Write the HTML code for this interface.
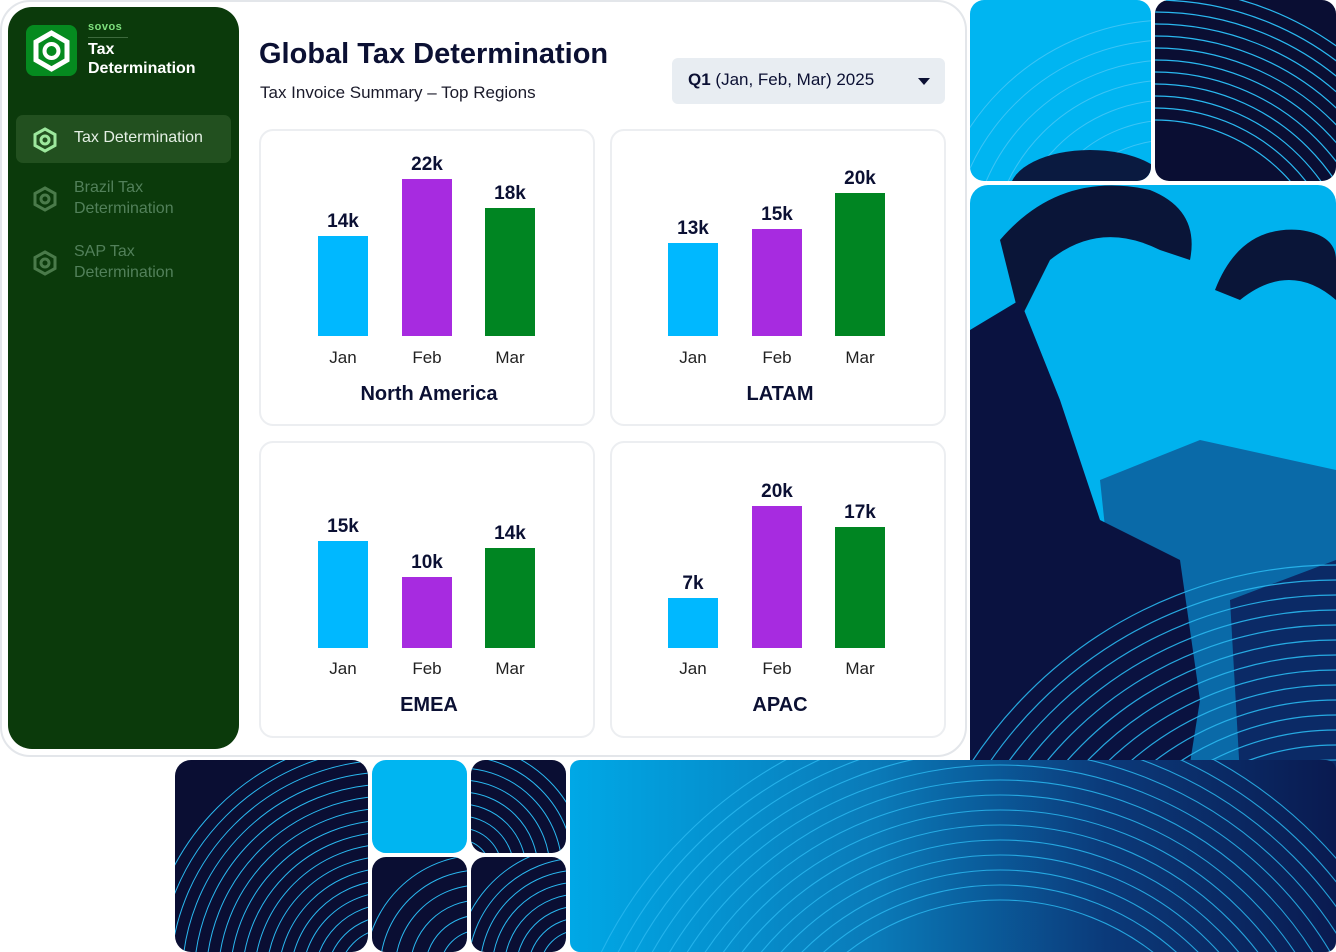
<!DOCTYPE html>
<html><head><meta charset="utf-8"><style>
*{margin:0;padding:0;box-sizing:border-box}
html,body{width:1336px;height:952px;overflow:hidden}
body{background:#fff;font-family:"Liberation Sans",sans-serif;position:relative}
.abs{position:absolute}
.card{left:0;top:0;width:967px;height:757px;background:#fff;border:2px solid #e3e6ea;border-radius:30px}
.side{left:8px;top:7px;width:231px;height:742px;background:#0b3a0b;border-radius:24px}
.panel{position:absolute;width:336px;height:297px;border:2px solid #eceef1;border-radius:14px;background:#fff}
.bar{position:absolute;width:50px}
.val{position:absolute;width:80px;text-align:center;font-weight:bold;font-size:19px;color:#0b1033}
.mon{position:absolute;width:80px;text-align:center;font-size:17px;color:#222}
.ttl{position:absolute;left:0;width:336px;text-align:center;font-weight:bold;font-size:20px;color:#0b1033}
</style></head><body>
<svg class="abs" style="left:0;top:0" width="1336" height="952">
<defs>
<clipPath id="c1"><rect x="970" y="0" width="181" height="181" rx="14"/></clipPath>
<clipPath id="c2"><rect x="1155" y="0" width="181" height="181" rx="14"/></clipPath>
<clipPath id="c3"><rect x="970" y="185" width="366" height="767" rx="18"/></clipPath>
<clipPath id="c4"><rect x="175" y="760" width="193" height="192" rx="16"/></clipPath>
<clipPath id="c5"><rect x="570" y="760" width="766" height="192" rx="10"/></clipPath>
<clipPath id="c6"><rect x="471" y="760" width="95" height="93" rx="14"/></clipPath>
<clipPath id="c7"><rect x="372" y="857" width="95" height="95" rx="14"/></clipPath>
<clipPath id="c8"><rect x="471" y="857" width="95" height="95" rx="14"/></clipPath>
<linearGradient id="g5" x1="0" x2="1" y1="0" y2="0"><stop offset="0" stop-color="#00a8e6"/><stop offset="0.4" stop-color="#0a7ab8"/><stop offset="0.7" stop-color="#0b3a7a"/><stop offset="1" stop-color="#0a1a50"/></linearGradient>
</defs>
<g clip-path="url(#c1)"><rect x="970" y="0" width="181" height="181" fill="#00b5f1"/>
<g fill="none" stroke="#3cc4f5" stroke-width="1"><circle cx="1170" cy="260" r="120"/><circle cx="1170" cy="260" r="140"/><circle cx="1170" cy="260" r="160"/><circle cx="1170" cy="260" r="180"/><circle cx="1170" cy="260" r="200"/><circle cx="1170" cy="260" r="220"/><circle cx="1170" cy="260" r="240"/></g>
<ellipse cx="1090" cy="190" rx="80" ry="40" fill="#0a1a40"/></g>
<g clip-path="url(#c2)"><rect x="1155" y="0" width="181" height="181" fill="#0a0e33"/>
<g fill="none" stroke="#2ab8f0" stroke-width="1.2">
<circle cx="1155" cy="300" r="180"/><circle cx="1155" cy="300" r="192"/><circle cx="1155" cy="300" r="204"/><circle cx="1155" cy="300" r="216"/><circle cx="1155" cy="300" r="228"/><circle cx="1155" cy="300" r="240"/><circle cx="1155" cy="300" r="252"/><circle cx="1155" cy="300" r="264"/><circle cx="1155" cy="300" r="276"/><circle cx="1155" cy="300" r="288"/><circle cx="1155" cy="300" r="300"/><circle cx="1155" cy="300" r="312"/></g></g>
<g clip-path="url(#c3)"><rect x="970" y="185" width="366" height="767" fill="#00b2ee"/>
<path d="M1000 240 Q1060 170 1150 190 Q1200 210 1190 260 L1160 250 Q1100 220 1050 260 L1020 320 Z" fill="#0a1538"/>
<path d="M1215 290 Q1240 225 1300 230 Q1336 235 1336 260 L1336 300 Q1290 260 1240 300 Z" fill="#0a1538"/>
<path d="M1100 480 L1200 440 L1336 470 L1336 952 L1150 952 Z" fill="#0a6aa8"/>
<path d="M1230 600 L1336 560 L1336 952 L1250 952 Z" fill="#0b2a66"/>
<path d="M970 330 L1020 300 L1060 400 L1100 520 L1180 560 L1200 700 L1160 952 L970 952 Z" fill="#0a1240"/>
<g fill="none" stroke="#2ab8f0" stroke-width="1.2" opacity="0.9">
<circle cx="1336" cy="1000" r="120"/><circle cx="1336" cy="1000" r="135"/><circle cx="1336" cy="1000" r="150"/><circle cx="1336" cy="1000" r="165"/><circle cx="1336" cy="1000" r="180"/><circle cx="1336" cy="1000" r="195"/><circle cx="1336" cy="1000" r="210"/><circle cx="1336" cy="1000" r="225"/><circle cx="1336" cy="1000" r="240"/><circle cx="1336" cy="1000" r="255"/><circle cx="1336" cy="1000" r="270"/><circle cx="1336" cy="1000" r="285"/><circle cx="1336" cy="1000" r="300"/><circle cx="1336" cy="1000" r="315"/><circle cx="1336" cy="1000" r="330"/><circle cx="1336" cy="1000" r="345"/><circle cx="1336" cy="1000" r="360"/><circle cx="1336" cy="1000" r="375"/><circle cx="1336" cy="1000" r="390"/><circle cx="1336" cy="1000" r="405"/><circle cx="1336" cy="1000" r="420"/><circle cx="1336" cy="1000" r="435"/></g></g>
<g clip-path="url(#c4)"><rect x="175" y="760" width="193" height="192" fill="#0a0e33"/>
<g fill="none" stroke="#2ab8f0" stroke-width="1"><circle cx="390" cy="980" r="40"/><circle cx="390" cy="980" r="52"/><circle cx="390" cy="980" r="64"/><circle cx="390" cy="980" r="76"/><circle cx="390" cy="980" r="88"/><circle cx="390" cy="980" r="100"/><circle cx="390" cy="980" r="112"/><circle cx="390" cy="980" r="124"/><circle cx="390" cy="980" r="136"/><circle cx="390" cy="980" r="148"/><circle cx="390" cy="980" r="160"/><circle cx="390" cy="980" r="172"/><circle cx="390" cy="980" r="184"/><circle cx="390" cy="980" r="196"/><circle cx="390" cy="980" r="208"/><circle cx="390" cy="980" r="220"/><circle cx="390" cy="980" r="232"/><circle cx="390" cy="980" r="244"/></g></g>
<rect x="372" y="760" width="95" height="93" rx="14" fill="#00b5f1"/>
<g clip-path="url(#c6)"><rect x="471" y="760" width="95" height="93" fill="#0a0e33"/><g fill="none" stroke="#2ab8f0"><circle cx="460" cy="870" r="30"/><circle cx="460" cy="870" r="42"/><circle cx="460" cy="870" r="54"/><circle cx="460" cy="870" r="66"/><circle cx="460" cy="870" r="78"/><circle cx="460" cy="870" r="90"/><circle cx="460" cy="870" r="102"/><circle cx="460" cy="870" r="114"/><circle cx="460" cy="870" r="126"/></g></g>
<g clip-path="url(#c7)"><rect x="372" y="857" width="95" height="95" fill="#0a0e33"/><g fill="none" stroke="#2ab8f0"><circle cx="480" cy="970" r="40"/><circle cx="480" cy="970" r="55"/><circle cx="480" cy="970" r="70"/><circle cx="480" cy="970" r="85"/><circle cx="480" cy="970" r="100"/><circle cx="480" cy="970" r="115"/></g></g>
<g clip-path="url(#c8)"><rect x="471" y="857" width="95" height="95" fill="#0a0e33"/><g fill="none" stroke="#2ab8f0"><circle cx="580" cy="970" r="40"/><circle cx="580" cy="970" r="52"/><circle cx="580" cy="970" r="64"/><circle cx="580" cy="970" r="76"/><circle cx="580" cy="970" r="88"/><circle cx="580" cy="970" r="100"/><circle cx="580" cy="970" r="112"/><circle cx="580" cy="970" r="124"/></g></g>
<g clip-path="url(#c5)"><rect x="570" y="760" width="766" height="192" fill="url(#g5)"/>
<g fill="none" stroke="#2ab8f0" stroke-width="1.1" opacity="0.85">
<circle cx="1000" cy="1150" r="250"/><circle cx="1000" cy="1150" r="265"/><circle cx="1000" cy="1150" r="280"/><circle cx="1000" cy="1150" r="295"/><circle cx="1000" cy="1150" r="310"/><circle cx="1000" cy="1150" r="325"/><circle cx="1000" cy="1150" r="340"/><circle cx="1000" cy="1150" r="355"/><circle cx="1000" cy="1150" r="370"/><circle cx="1000" cy="1150" r="385"/><circle cx="1000" cy="1150" r="400"/><circle cx="1000" cy="1150" r="415"/><circle cx="1000" cy="1150" r="430"/><circle cx="1000" cy="1150" r="445"/></g></g>
</svg>

<div class="abs card"></div>
<div class="abs side"></div>
<div class="abs" style="left:26px;top:25px;width:51px;height:51px;background:#058a1f;border-radius:8px"></div>
<svg class="abs" style="left:26px;top:25px" width="51" height="51"><polygon points="25.5,8 41,17 41,35 25.5,44 10,35 10,17" fill="none" stroke="#fff" stroke-width="5"/><circle cx="25.5" cy="26" r="7" fill="none" stroke="#fff" stroke-width="4"/></svg>
<div class="abs" style="left:88px;top:21px;font-size:11px;font-weight:bold;color:#7ee07e;letter-spacing:0.5px">sovos</div>
<div class="abs" style="left:88px;top:37px;width:40px;height:1px;background:#3d6a3d"></div>
<div class="abs" style="left:88px;top:40px;font-size:16px;font-weight:bold;color:#fff;line-height:19px">Tax<br>Determination</div>
<div class="abs" style="left:16px;top:115px;width:215px;height:48px;background:#22501f;border-radius:7px"></div>
<svg class="abs" style="left:32px;top:127px" width="26" height="26"><polygon points="13,2 23,7.5 23,18.5 13,24 3,18.5 3,7.5" fill="none" stroke="#9de89d" stroke-width="3"/><circle cx="13" cy="13" r="4" fill="none" stroke="#9de89d" stroke-width="3"/></svg>
<div class="abs" style="left:74px;top:129px;font-size:16px;color:#e4efe4">Tax Determination</div>
<svg class="abs" style="left:32px;top:186px" width="26" height="26"><polygon points="13,2 23,7.5 23,18.5 13,24 3,18.5 3,7.5" fill="none" stroke="#4a7a4a" stroke-width="3"/><circle cx="13" cy="13" r="4" fill="none" stroke="#4a7a4a" stroke-width="3"/></svg>
<div class="abs" style="left:74px;top:177px;font-size:16px;color:#52805a;line-height:21px">Brazil Tax<br>Determination</div>
<svg class="abs" style="left:32px;top:250px" width="26" height="26"><polygon points="13,2 23,7.5 23,18.5 13,24 3,18.5 3,7.5" fill="none" stroke="#4a7a4a" stroke-width="3"/><circle cx="13" cy="13" r="4" fill="none" stroke="#4a7a4a" stroke-width="3"/></svg>
<div class="abs" style="left:74px;top:241px;font-size:16px;color:#52805a;line-height:21px">SAP Tax<br>Determination</div>

<div class="abs" style="left:259px;top:38px;font-size:29px;font-weight:bold;color:#0b1033;white-space:nowrap">Global Tax Determination</div>
<div class="abs" style="left:260px;top:83px;font-size:17px;color:#1a1a2a;white-space:nowrap">Tax Invoice Summary – Top Regions</div>
<div class="abs" style="left:672px;top:58px;width:273px;height:46px;background:#e8edf2;border-radius:6px"></div>
<div class="abs" style="left:688px;top:70px;font-size:17px;color:#0b1033;white-space:nowrap"><b>Q1</b> (Jan, Feb, Mar) 2025</div>
<div class="abs" style="left:918px;top:78px;width:0;height:0;border-left:6px solid transparent;border-right:6px solid transparent;border-top:7px solid #0b1033"></div>

<div class="panel" style="left:259px;top:129px">
 <div class="bar" style="left:57px;top:105px;height:100px;background:#00b8ff"></div>
 <div class="bar" style="left:141px;top:48px;height:157px;background:#a72be0"></div>
 <div class="bar" style="left:224px;top:77px;height:128px;background:#008522"></div>
 <div class="val" style="left:42px;top:80px">14k</div><div class="val" style="left:126px;top:23px">22k</div><div class="val" style="left:209px;top:52px">18k</div>
 <div class="mon" style="left:42px;top:217px">Jan</div><div class="mon" style="left:126px;top:217px">Feb</div><div class="mon" style="left:209px;top:217px">Mar</div>
 <div class="ttl" style="top:252px">North America</div>
</div>
<div class="panel" style="left:610px;top:129px">
 <div class="bar" style="left:56px;top:112px;height:93px;background:#00b8ff"></div>
 <div class="bar" style="left:140px;top:98px;height:107px;background:#a72be0"></div>
 <div class="bar" style="left:223px;top:62px;height:143px;background:#008522"></div>
 <div class="val" style="left:41px;top:87px">13k</div><div class="val" style="left:125px;top:73px">15k</div><div class="val" style="left:208px;top:37px">20k</div>
 <div class="mon" style="left:41px;top:217px">Jan</div><div class="mon" style="left:125px;top:217px">Feb</div><div class="mon" style="left:208px;top:217px">Mar</div>
 <div class="ttl" style="top:252px">LATAM</div>
</div>
<div class="panel" style="left:259px;top:441px">
 <div class="bar" style="left:57px;top:98px;height:107px;background:#00b8ff"></div>
 <div class="bar" style="left:141px;top:134px;height:71px;background:#a72be0"></div>
 <div class="bar" style="left:224px;top:105px;height:100px;background:#008522"></div>
 <div class="val" style="left:42px;top:73px">15k</div><div class="val" style="left:126px;top:109px">10k</div><div class="val" style="left:209px;top:80px">14k</div>
 <div class="mon" style="left:42px;top:216px">Jan</div><div class="mon" style="left:126px;top:216px">Feb</div><div class="mon" style="left:209px;top:216px">Mar</div>
 <div class="ttl" style="top:251px">EMEA</div>
</div>
<div class="panel" style="left:610px;top:441px">
 <div class="bar" style="left:56px;top:155px;height:50px;background:#00b8ff"></div>
 <div class="bar" style="left:140px;top:63px;height:142px;background:#a72be0"></div>
 <div class="bar" style="left:223px;top:84px;height:121px;background:#008522"></div>
 <div class="val" style="left:41px;top:130px">7k</div><div class="val" style="left:125px;top:38px">20k</div><div class="val" style="left:208px;top:59px">17k</div>
 <div class="mon" style="left:41px;top:216px">Jan</div><div class="mon" style="left:125px;top:216px">Feb</div><div class="mon" style="left:208px;top:216px">Mar</div>
 <div class="ttl" style="top:251px">APAC</div>
</div>
</body></html>
